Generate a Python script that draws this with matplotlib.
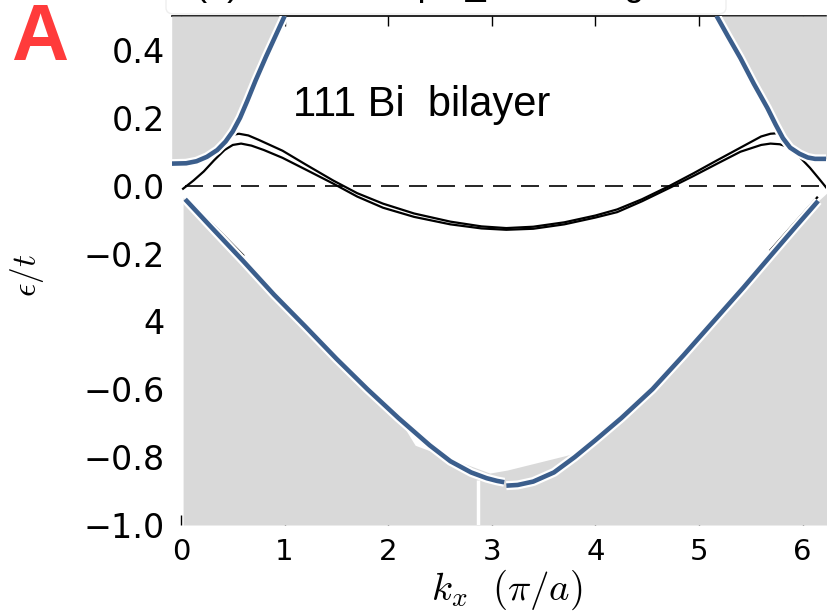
import matplotlib
matplotlib.use('Agg')
import matplotlib.pyplot as plt
import matplotlib.patheffects as pe
from matplotlib.patches import FancyBboxPatch

plt.rcParams['mathtext.fontset'] = 'cm'

# upper (conduction) blue bands, left and right pieces
up_left_x = [-0.09, 0.05, 0.15, 0.25, 0.35, 0.43, 0.50, 0.57, 0.64, 0.72, 0.82, 0.91, 1.00]
up_left_y = [0.065, 0.066, 0.072, 0.085, 0.105, 0.13, 0.16, 0.20, 0.25, 0.31, 0.38, 0.44, 0.50]
up_right_x = [5.17, 5.28, 5.40, 5.53, 5.66, 5.74, 5.81, 5.88, 5.97, 6.05, 6.12, 6.24]
up_right_y = [0.50, 0.44, 0.376, 0.30, 0.229, 0.18, 0.14, 0.112, 0.094, 0.083, 0.079, 0.079]

# lower (valence) blue band, two branches meeting near k = pi
low_left_x = [0.04, 0.30, 0.60, 0.90, 1.20, 1.50, 1.80, 2.10, 2.40, 2.60, 2.80, 2.95, 3.05, 3.12]
low_left_y = [-0.04, -0.125, -0.222, -0.322, -0.415, -0.51, -0.60, -0.685, -0.765,
              -0.812, -0.845, -0.862, -0.870, -0.874]
low_right_x = [3.14, 3.25, 3.40, 3.60, 3.80, 4.00, 4.25, 4.55, 4.85, 5.14, 5.43, 5.71, 5.95, 6.15]
low_right_y = [-0.884, -0.882, -0.872, -0.845, -0.80, -0.75, -0.685, -0.60, -0.50,
               -0.40, -0.30, -0.20, -0.115, -0.045]

# top edge of the lower grey continuum
gray_x = [0.02, 0.04, 0.30, 0.60, 0.90, 1.20, 1.50, 1.80, 2.10, 2.26, 2.98, 3.15,
          3.85, 4.04, 4.25, 4.55, 4.85, 5.14, 5.43, 5.71, 5.95, 6.15, 6.24]
gray_y = [-0.035, -0.04, -0.125, -0.222, -0.322, -0.415, -0.51, -0.60, -0.685,
          -0.765, -0.847, -0.838, -0.785, -0.74, -0.685, -0.60, -0.50, -0.40,
          -0.30, -0.20, -0.115, -0.045, -0.02]

# surface states (black)
ss1_x = [0.44, 0.50, 0.56, 0.65, 0.75, 0.98, 1.20, 1.47, 1.70, 1.95, 2.25, 2.60,
         2.90, 3.14, 3.40, 3.70, 4.00, 4.21, 4.45, 4.72, 4.95, 5.17, 5.40, 5.60,
         5.69, 5.78]
ss1_y = [0.14, 0.150, 0.153, 0.148, 0.135, 0.103, 0.063, 0.015, -0.022, -0.053,
         -0.082, -0.106, -0.120, -0.125, -0.121, -0.108, -0.088, -0.070, -0.040,
         0.0, 0.037, 0.074, 0.112, 0.145, 0.153, 0.155]
ss2_x = [0.02, 0.12, 0.22, 0.32, 0.42, 0.50, 0.58, 0.68, 0.80, 0.98, 1.20, 1.47,
         1.70, 1.95, 2.25, 2.60, 2.90, 3.14, 3.40, 3.70, 4.00, 4.21, 4.45, 4.72,
         4.95, 5.17, 5.40, 5.60, 5.69, 5.78, 5.88, 5.97, 6.07, 6.16, 6.24]
ss2_y = [-0.009, 0.015, 0.042, 0.075, 0.105, 0.12, 0.124, 0.118, 0.105, 0.082,
         0.048, 0.006, -0.032, -0.065, -0.092, -0.114, -0.126, -0.13, -0.127,
         -0.114, -0.094, -0.078, -0.046, -0.006, 0.029, 0.064, 0.100, 0.12,
         0.124, 0.122, 0.112, 0.085, 0.053, 0.02, -0.01]

# thin black edges riding along the lower blue band
edge_left_x = [0.10, 0.60]
edge_left_y = [-0.050, -0.205]
edge_right_x = [5.69, 6.14]
edge_right_y = [-0.190, -0.035]

gap_x = 2.87
xticks = [0, 1, 2, 3, 4, 5, 6]
yticks = [0.4, 0.2, 0.0, -0.2, -0.4, -0.6, -0.8, -1.0]
ytick_labels = ['0.4', '0.2', '0.0', '\u22120.2', '4', '\u22120.6', '\u22120.8', '\u22121.0']

blue = '#3b5e8c'
grey = '#d9d9d9'

fig = plt.figure(figsize=(8.29, 6.15), dpi=100)
ax = fig.add_axes([172 / 829, 1 - 525 / 615, 654 / 829, 509 / 615])

ax.fill_between(up_left_x, up_left_y, 0.5, color=grey, lw=0, zorder=3)
ax.fill_between(up_right_x, up_right_y, 0.5, color=grey, lw=0, zorder=3)
ax.fill_between(gray_x, gray_y, -1.0, color=grey, lw=0, zorder=3)
ax.vlines(gap_x, -1.0, -0.868, color='white', lw=2.5, zorder=3.5)

ax.axhline(0, xmin=0.02, color='k', lw=1.2, dashes=(10.8, 6), zorder=4)

for xs, ys in [(ss1_x, ss1_y), (ss2_x, ss2_y), (edge_left_x, edge_left_y),
               (edge_right_x, edge_right_y)]:
    ax.plot(xs, ys, color='k', lw=1.6, zorder=4)

outline = [pe.Stroke(linewidth=6.5, foreground='white'), pe.Normal()]
for xs, ys in [(up_left_x, up_left_y), (up_right_x, up_right_y),
               (low_left_x, low_left_y), (low_right_x, low_right_y)]:
    ax.plot(xs, ys, color=blue, lw=3.3, zorder=5, path_effects=outline,
            solid_capstyle='butt')

ax.set_xlim(-0.087, 6.226)
ax.set_ylim(-1.0, 0.5)
for s in ['left', 'right', 'bottom']:
    ax.spines[s].set_visible(False)
ax.spines['top'].set_linewidth(1.2)

ax.set_xticks(xticks)
ax.set_xticklabels([str(t) for t in xticks], fontsize=21)
ax.set_yticks(yticks)
ax.set_yticklabels(ytick_labels, fontsize=24)
ax.tick_params(axis='x', top=True, bottom=True, direction='in', length=7, width=1, pad=9)
ax.tick_params(axis='y', length=0, pad=5)

ax.text(0.185, 0.825, '111 Bi  bilayer', transform=ax.transAxes, fontsize=30,
        family='Liberation Sans', va='center', zorder=6)

fig.text(507 / 829, 1 - 590 / 615, r'$k_x\ \ (\pi/a)$', fontsize=28,
         ha='center', va='center')
fig.text(27 / 829, 1 - 275 / 615, r'$\epsilon/t$', fontsize=24, rotation=90,
         ha='center', va='center')
fig.text(40 / 829, 1 - 40 / 615, 'A', fontsize=57, fontweight='bold',
         color='#ff3b3b', family='Liberation Sans', ha='center', va='center')

# title box, mostly cut off by the top edge as in the source figure
fig.patches.append(FancyBboxPatch((166 / 829, 1 - 14 / 615), 560 / 829, 0.05,
                                  boxstyle='round,pad=0,rounding_size=0.01',
                                  transform=fig.transFigure, facecolor='white',
                                  edgecolor='#eeeeee', lw=1, zorder=10))
fig.text(445 / 829, 1 + 5 / 615, '(b), Bi slab, top k_ surface gate', fontsize=26,
         family='Liberation Sans', ha='center', va='baseline', zorder=11)

fig.savefig('out.png', dpi=100)
